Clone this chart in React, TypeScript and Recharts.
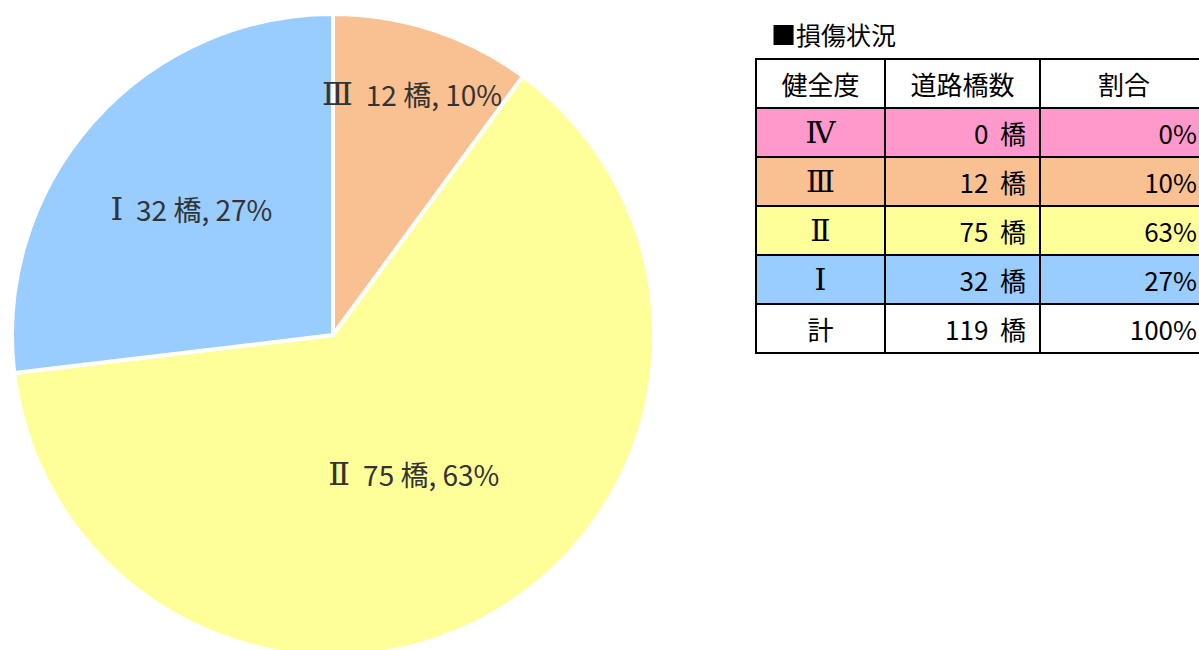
import { PieChart, Pie, Cell } from 'recharts';

// damage status by soundness grade
const grades = ['Ⅳ', 'Ⅲ', 'Ⅱ', 'Ⅰ'];
const bridgeCounts = [0, 12, 75, 32];
const shares = ['0%', '10%', '63%', '27%'];
const gradeColors = ['#FF99CC', '#F9C091', '#FFFF99', '#99CCFF'];

const TOTAL_LABEL = '計';
const TOTAL_COUNT = 119;
const TOTAL_SHARE = '100%';
const TITLE = '■損傷状況';
const HEADERS = ['健全度', '道路橋数', '割合'];

const FONT = '"Noto Sans CJK JP", "Noto Sans", sans-serif';
const NUMERAL_FONT = '"DejaVu Serif", serif';

// label distance from centre, as a share of the radius (Excel best-fit look)
const LABEL_RADIUS: Record<string, number> = { 'Ⅲ': 0.79, 'Ⅱ': 0.5, 'Ⅰ': 0.59 };

const pieData = grades
  .map((g, i) => ({ name: g, value: bridgeCounts[i], color: gradeColors[i] }))
  .filter((d) => d.value > 0);

const renderLabel = (props: any) => {
  const { cx, cy, midAngle, outerRadius, name, value, percent } = props;
  const r = outerRadius * (LABEL_RADIUS[name] ?? 0.6);
  const rad = (-midAngle * Math.PI) / 180;
  const x = cx + r * Math.cos(rad);
  const y = cy + r * Math.sin(rad);
  return (
    <text
      x={x}
      y={y}
      textAnchor="middle"
      dominantBaseline="central"
      fill="#333"
      fontSize={28}
      fontFamily={FONT}
    >
      <tspan fontFamily={NUMERAL_FONT} fontSize={32}>{name}</tspan>
      <tspan dx={13}>{`${value} 橋, ${Math.round(percent * 100)}%`}</tspan>
    </text>
  );
};

const cellBase: React.CSSProperties = {
  border: '2px solid #000',
  height: 47,
  padding: 0,
  fontSize: 26,
  fontFamily: FONT,
  color: '#000',
};

const numeralCell: React.CSSProperties = {
  ...cellBase,
  textAlign: 'center',
  fontFamily: NUMERAL_FONT,
  fontSize: 30,
};

const App = () => {
  return (
    <div style={{ position: 'fixed', left: 0, top: 0, width: 1199, height: 650, overflow: 'hidden', background: '#fff' }}>
      <PieChart
        width={700}
        height={650}
        margin={{ top: 0, right: 0, bottom: 0, left: 0 }}
        style={{ position: 'absolute', left: 0, top: 0 }}
      >
        <Pie
          data={pieData}
          dataKey="value"
          nameKey="name"
          cx={333}
          cy={335}
          outerRadius={321}
          startAngle={90}
          endAngle={-270}
          stroke="#fff"
          strokeWidth={4}
          label={renderLabel}
          labelLine={false}
          isAnimationActive={false}
        >
          {pieData.map((d) => (
            <Cell key={d.name} fill={d.color} />
          ))}
        </Pie>
      </PieChart>

      {/* Table */}
      <div style={{ position: 'absolute', left: 771, top: 16, fontSize: 25, fontFamily: FONT, color: '#000' }}>
        {TITLE}
      </div>
      <table
        style={{
          position: 'absolute',
          left: 755,
          top: 58,
          borderCollapse: 'collapse',
          tableLayout: 'fixed',
          width: 452,
        }}
      >
        <colgroup>
          <col style={{ width: 129 }} />
          <col style={{ width: 155 }} />
          <col style={{ width: 168 }} />
        </colgroup>
        <tbody>
          <tr>
            {HEADERS.map((h) => (
              <td key={h} style={{ ...cellBase, textAlign: 'center', background: '#fff' }}>
                {h}
              </td>
            ))}
          </tr>
          {grades.map((g, i) => (
            <tr key={g} style={{ background: gradeColors[i] }}>
              <td style={numeralCell}>{g}</td>
              <td style={{ ...cellBase, textAlign: 'right', paddingRight: 13 }}>
                {bridgeCounts[i]}&nbsp;&nbsp;橋
              </td>
              <td style={{ ...cellBase, textAlign: 'right', paddingRight: 10 }}>{shares[i]}</td>
            </tr>
          ))}
          <tr style={{ background: '#fff' }}>
            <td style={{ ...cellBase, textAlign: 'center' }}>{TOTAL_LABEL}</td>
            <td style={{ ...cellBase, textAlign: 'right', paddingRight: 13 }}>
              {TOTAL_COUNT}&nbsp;&nbsp;橋
            </td>
            <td style={{ ...cellBase, textAlign: 'right', paddingRight: 10 }}>{TOTAL_SHARE}</td>
          </tr>
        </tbody>
      </table>
    </div>
  );
};

export default App;
